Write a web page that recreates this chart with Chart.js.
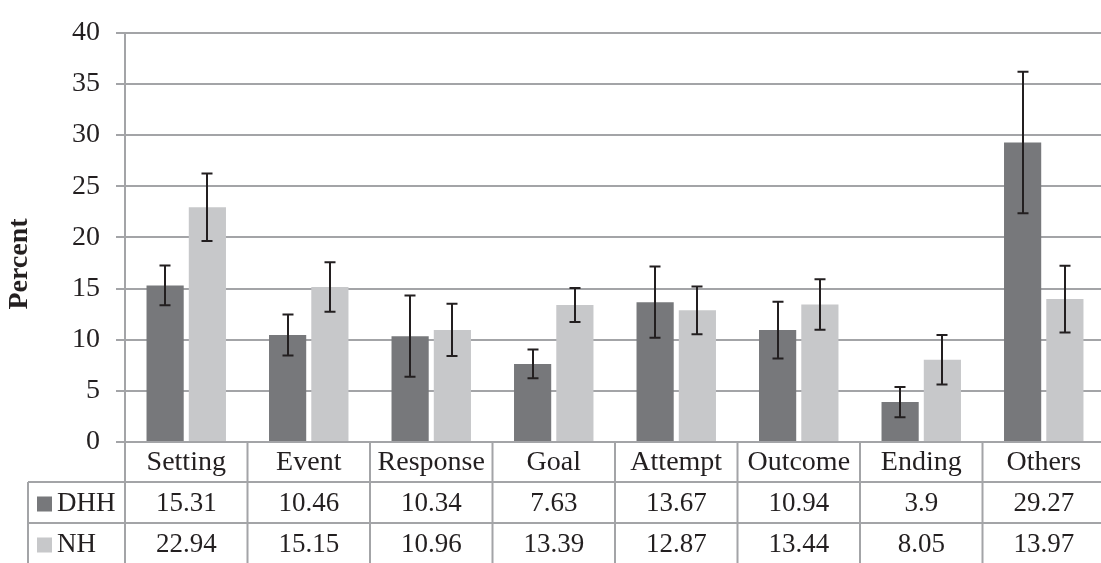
<!DOCTYPE html>
<html>
<head>
<meta charset="utf-8">
<script src="https://cdn.jsdelivr.net/npm/chart.js@4/dist/chart.umd.min.js"></script>
<style>
	html, body { margin: 0; padding: 0; background: #ffffff; overflow: hidden; }
	#wrap { width: 1101px; height: 563px; overflow: hidden; }
	canvas { display: block; }
</style>
</head>
<body>
<div id="wrap"><canvas id="chart" width="1105" height="563"></canvas></div>
<script>
"use strict";

var categories = ["Setting", "Event", "Response", "Goal", "Attempt", "Outcome", "Ending", "Others"];
var seriesNames = ["DHH", "NH"];
var dhhValues = [15.31, 10.46, 10.34, 7.63, 13.67, 10.94, 3.9, 29.27];
var nhValues = [22.94, 15.15, 10.96, 13.39, 12.87, 13.44, 8.05, 13.97];
// error bar half-lengths
var dhhErrors = [1.94, 2.0, 3.97, 1.4, 3.48, 2.77, 1.48, 6.92];
var nhErrors = [3.3, 2.42, 2.56, 1.67, 2.33, 2.46, 2.42, 3.26];

var dhhColor = "#77787b";
var nhColor = "#c7c8ca";
var textColor = "#231f20";
var lineColor = "#a3a4a7";
var fontFamily = "'Liberation Serif', 'Times New Roman', serif";

var errorBars = {
	id: "errorBars",
	afterDatasetsDraw: function (chart) {
		var ctx = chart.ctx;
		var yScale = chart.scales.y;
		var errors = [dhhErrors, nhErrors];
		ctx.save();
		ctx.strokeStyle = textColor;
		ctx.lineWidth = 2;
		chart.data.datasets.forEach(function (ds, d) {
			var meta = chart.getDatasetMeta(d);
			meta.data.forEach(function (bar, i) {
				var x = Math.round(bar.x);
				var top = yScale.getPixelForValue(ds.data[i] + errors[d][i]);
				var bottom = yScale.getPixelForValue(ds.data[i] - errors[d][i]);
				ctx.beginPath();
				ctx.moveTo(x, top);
				ctx.lineTo(x, bottom);
				ctx.moveTo(x - 5.5, top);
				ctx.lineTo(x + 5.5, top);
				ctx.moveTo(x - 5.5, bottom);
				ctx.lineTo(x + 5.5, bottom);
				ctx.stroke();
			});
		});
		ctx.restore();
	}
};

var dataTable = {
	id: "dataTable",
	afterDraw: function (chart) {
		var ctx = chart.ctx;
		var area = chart.chartArea;
		var xScale = chart.scales.x;
		var step = (area.right - area.left) / categories.length;
		var rowTop = area.bottom + 40;
		var rowH = 41;
		var tableLeft = 28;
		var bottom = chart.height;

		ctx.save();
		ctx.strokeStyle = lineColor;
		ctx.lineWidth = 2;
		ctx.beginPath();
		for (var k = 0; k <= categories.length; k++) {
			var bx = area.left + k * step;
			ctx.moveTo(bx, area.bottom);
			ctx.lineTo(bx, bottom);
		}
		ctx.moveTo(tableLeft, rowTop);
		ctx.lineTo(tableLeft, bottom);
		ctx.moveTo(tableLeft, rowTop);
		ctx.lineTo(area.right, rowTop);
		ctx.moveTo(tableLeft, rowTop + rowH);
		ctx.lineTo(area.right, rowTop + rowH);
		ctx.stroke();

		var rows = [dhhValues, nhValues];
		var colors = [dhhColor, nhColor];
		ctx.font = "27px " + fontFamily;
		ctx.textBaseline = "middle";
		rows.forEach(function (values, r) {
			var cy = rowTop + rowH * r + rowH / 2 + 1;
			ctx.fillStyle = colors[r];
			ctx.fillRect(37, cy - 7, 15, 15);
			ctx.fillStyle = textColor;
			ctx.textAlign = "left";
			ctx.fillText(seriesNames[r], 57, cy);
			ctx.textAlign = "center";
			values.forEach(function (v, i) {
				ctx.fillText(String(v), xScale.getPixelForValue(i), cy);
			});
		});

		// y axis title
		ctx.font = "bold 28px " + fontFamily;
		ctx.translate(20, 264);
		ctx.rotate(-Math.PI / 2);
		ctx.textAlign = "center";
		ctx.fillText("Percent", 0, 0);
		ctx.restore();
	}
};

var ctx = document.getElementById("chart").getContext("2d");

new Chart(ctx, {
	type: "bar",
	data: {
		labels: categories,
		datasets: [{
			label: seriesNames[0],
			data: dhhValues,
			backgroundColor: dhhColor
		}, {
			label: seriesNames[1],
			data: nhValues,
			backgroundColor: nhColor
		}]
	},
	options: {
		responsive: false,
		animation: false,
		categoryPercentage: 0.69,
		barPercentage: 0.88,
		layout: { padding: { top: 22, left: 0, right: 0, bottom: 0 } },
		plugins: {
			legend: { display: false },
			tooltip: { enabled: false }
		},
		scales: {
			x: {
				grid: { display: false, drawTicks: false },
				border: { display: false },
				ticks: {
					color: textColor,
					font: { family: fontFamily, size: 28 },
					padding: 4,
					maxRotation: 0
				},
				afterFit: function (scale) { scale.height = 121; }
			},
			y: {
				min: 0,
				max: 40,
				ticks: {
					stepSize: 5,
					color: textColor,
					font: { family: fontFamily, size: 28 },
					padding: 16
				},
				grid: { color: lineColor, lineWidth: 2, tickLength: 9 },
				border: { color: lineColor, width: 2 },
				afterFit: function (scale) { scale.width = 125; }
			}
		}
	},
	plugins: [errorBars, dataTable]
});
</script>
</body>
</html>
